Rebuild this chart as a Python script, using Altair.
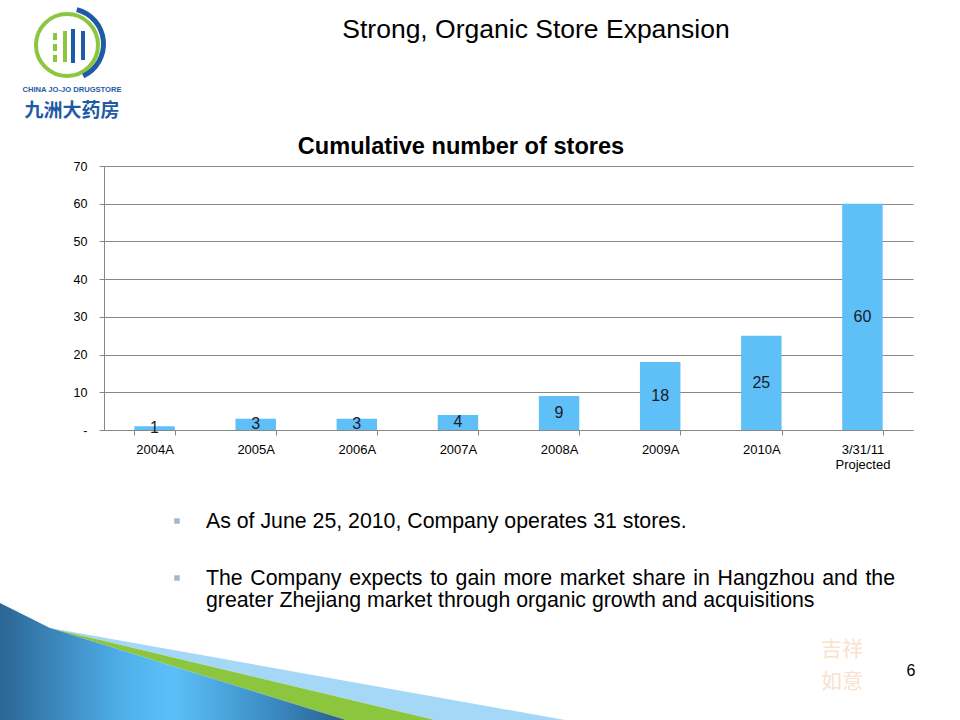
import altair as alt
import pandas as pd

# ---------------- data ----------------
categories = ["2004A", "2005A", "2006A", "2007A", "2008A", "2009A", "2010A", "3/31/11 Projected"]
stores = [1, 3, 3, 4, 9, 18, 25, 60]
y_ticks = [0, 10, 20, 30, 40, 50, 60, 70]

slide_title = "Strong, Organic Store Expansion"
chart_title = "Cumulative number of stores"
bullet_1 = "As of June 25, 2010, Company operates 31 stores."
bullet_2_line_1 = "The Company expects to gain more market share in Hangzhou and the"
bullet_2_line_2 = "greater Zhejiang market through organic growth and acquisitions"
page_number = "6"
logo_en = "CHINA JO-JO DRUGSTORE"
logo_cn = "九洲大药房"
seal_text = ["吉祥", "如意"]

df = pd.DataFrame({"period": categories, "stores": stores})

# ---------------- style ----------------
FONT = "Liberation Sans"
GRID = "#878787"
BAR = "#5EC0F7"
LOGO_BLUE = "#1E5AA6"
LOGO_GREEN = "#8CC63F"
W, H = 809, 264
LEFT, TOP = 104, 166

# Arial advance widths (per 1000 em) used only to justify the first line of bullet 2
ARIAL = {"T": 611, "h": 556, "e": 556, "C": 722, "o": 556, "m": 833, "p": 556, "a": 556, "n": 556,
         "y": 500, "x": 500, "c": 500, "t": 278, "s": 500, "g": 556, "i": 222, "r": 333, "k": 500,
         "H": 722, "z": 500, "u": 556, "d": 556}


def px(x):
    return x - LEFT


def py(y):
    return y - TOP


def one(text):
    return pd.DataFrame({"t": [text]})


def note(text, x, y, size, align="left", baseline="alphabetic", color="black", weight="normal", font=FONT):
    return alt.Chart(one(text)).mark_text(
        font=font, fontSize=size, align=align, baseline=baseline, color=color, fontWeight=weight
    ).encode(x=alt.value(px(x)), y=alt.value(py(y)), text="t:N")


def justified(line, x0, x1, y, size):
    words = line.split(" ")
    widths = [sum(ARIAL.get(ch, 556) for ch in w) * size / 1000 for w in words]
    gap = (x1 - x0 - sum(widths)) / (len(words) - 1)
    layers = []
    x = x0
    for w, wd in zip(words, widths):
        layers.append(note(w, x, y, size))
        x += wd + gap
    return alt.layer(*layers)


# ---------------- decorations: bottom swoosh ----------------
S = 960 * 960  # symbol size -> unit path coords span 960 px
cx, cy = px(480), py(360)
dark_path = "M-1,0.50625L-0.89583,0.55833L-0.27917,0.75L-1,0.75Z"
green_path = "M-0.89583,0.55833L-0.09375,0.75L-0.27917,0.75Z"
light_path = "M-0.89583,0.55833L0.17708,0.75L-0.09375,0.75Z"

dark_grad = alt.Gradient(
    gradient="linear", x1=0, x2=1, y1=0, y2=0,
    stops=[alt.GradientStop(color="#2B6595", offset=0),
           alt.GradientStop(color="#4FAFE8", offset=0.35),
           alt.GradientStop(color="#5CC0F8", offset=0.5),
           alt.GradientStop(color="#3A88C0", offset=0.8),
           alt.GradientStop(color="#2A5E8C", offset=1)])


def shape_layer(path, fill):
    return alt.Chart(one("s")).mark_point(
        shape=path, size=S, filled=True, fill=fill, opacity=1, strokeWidth=0
    ).encode(x=alt.value(cx), y=alt.value(cy))


swoosh = shape_layer(light_path, "#A5D7F7") + shape_layer(green_path, "#8CC63F") + shape_layer(dark_path, dark_grad)

# ---------------- logo ----------------
ring = alt.Chart(one("r")).mark_point(
    shape="circle", size=62 * 62, filled=False, stroke=LOGO_GREEN, strokeWidth=4, opacity=1
).encode(x=alt.value(px(67)), y=alt.value(py(45)))
crescent = alt.Chart(one("c")).mark_arc(
    radius=38, radius2=33, theta=0.25, theta2=2.7, color=LOGO_BLUE
).encode(x=alt.value(px(68)), y=alt.value(py(44)))


def bar_rule(x, y1, y2, color):
    return alt.Chart(one("b")).mark_rule(strokeWidth=4, color=color).encode(
        x=alt.value(px(x)), y=alt.value(py(y1)), y2=alt.value(py(y2)))


logo_bars = (bar_rule(55, 33, 40, LOGO_GREEN) + bar_rule(55, 44, 51, LOGO_GREEN) + bar_rule(55, 55, 62, LOGO_GREEN)
             + bar_rule(65, 31, 62, LOGO_GREEN) + bar_rule(73, 29, 63, LOGO_BLUE) + bar_rule(83, 31, 60, LOGO_BLUE))
logo_txt = (note(logo_en, 72, 92, 7.6, align="center", color=LOGO_BLUE, weight="bold",
                 font="Liberation Sans Narrow, Liberation Sans")
            + note(logo_cn, 72, 117, 19, align="center", color=LOGO_BLUE, weight="bold", font="Noto Sans CJK SC"))

seal = (note(seal_text[0], 842, 656, 21, align="center", color="#F8E2CE", font="Noto Sans CJK SC")
        + note(seal_text[1], 842, 688, 21, align="center", color="#F8E2CE", font="Noto Sans CJK SC"))

# ---------------- texts ----------------
BODY = 21.3
texts = (note(slide_title, 536, 38, 26.5, align="center")
         + note(chart_title, 461, 154, 23.6, align="center", weight="bold")
         + note(bullet_1, 206, 528, BODY)
         + justified(bullet_2_line_1, 206, 895, 585, BODY)
         + note(bullet_2_line_2, 206, 607, BODY)
         + note(page_number, 911, 676, 16, align="center"))

bullets = alt.Chart(pd.DataFrame({"b": [1, 2], "yy": [py(521), py(578)]})).mark_square(
    size=30, color="#A3B6CC", opacity=1
).encode(x=alt.value(px(177)), y=alt.Y("yy:Q", scale=None))

# ---------------- chart ----------------
x_axis = alt.Axis(title=None, labelAngle=0, labelFont=FONT, labelFontSize=13, labelColor="black",
                  labelPadding=8, labelLineHeight=15, tickBand="extent", tickSize=5,
                  tickColor=GRID, domainColor=GRID,
                  labelExpr="indexof(datum.label, ' ') > 0 ? split(datum.label, ' ') : datum.label")
y_axis = alt.Axis(title=None, values=y_ticks, grid=True, gridColor=GRID, gridWidth=1,
                  labelExpr="datum.value == 0 ? '-\u00a0\u00a0' : datum.label",
                  labelFont=FONT, labelFontSize=12.5, labelColor="black", labelPadding=12,
                  tickSize=5, tickColor=GRID, domainColor=GRID)
x_scale = alt.Scale(paddingInner=0.6, paddingOuter=0.3)
y_scale = alt.Scale(domain=[0, 70])

bars = alt.Chart(df).mark_bar(color=BAR).encode(
    x=alt.X("period:N", sort=categories, scale=x_scale, axis=x_axis),
    y=alt.Y("stores:Q", scale=y_scale, axis=y_axis))
labels = alt.Chart(df).transform_calculate(mid="datum.stores / 2").mark_text(
    font=FONT, fontSize=16, color="#1A1A2E", baseline="middle"
).encode(x=alt.X("period:N", sort=categories, scale=x_scale, axis=x_axis),
         y=alt.Y("mid:Q", scale=y_scale, axis=y_axis),
         text="stores:Q")

chart = alt.layer(
    swoosh, ring, crescent, logo_bars, logo_txt, seal, texts, bullets, bars, labels
).properties(
    width=W, height=H,
    autosize=alt.AutoSizeParams(type="none"),
    padding={"left": LEFT, "top": TOP, "right": 960 - LEFT - W, "bottom": 720 - TOP - H},
    background="white",
).configure_view(strokeWidth=0)

chart.save("out.html", embed_options={"renderer": "svg", "actions": False})
